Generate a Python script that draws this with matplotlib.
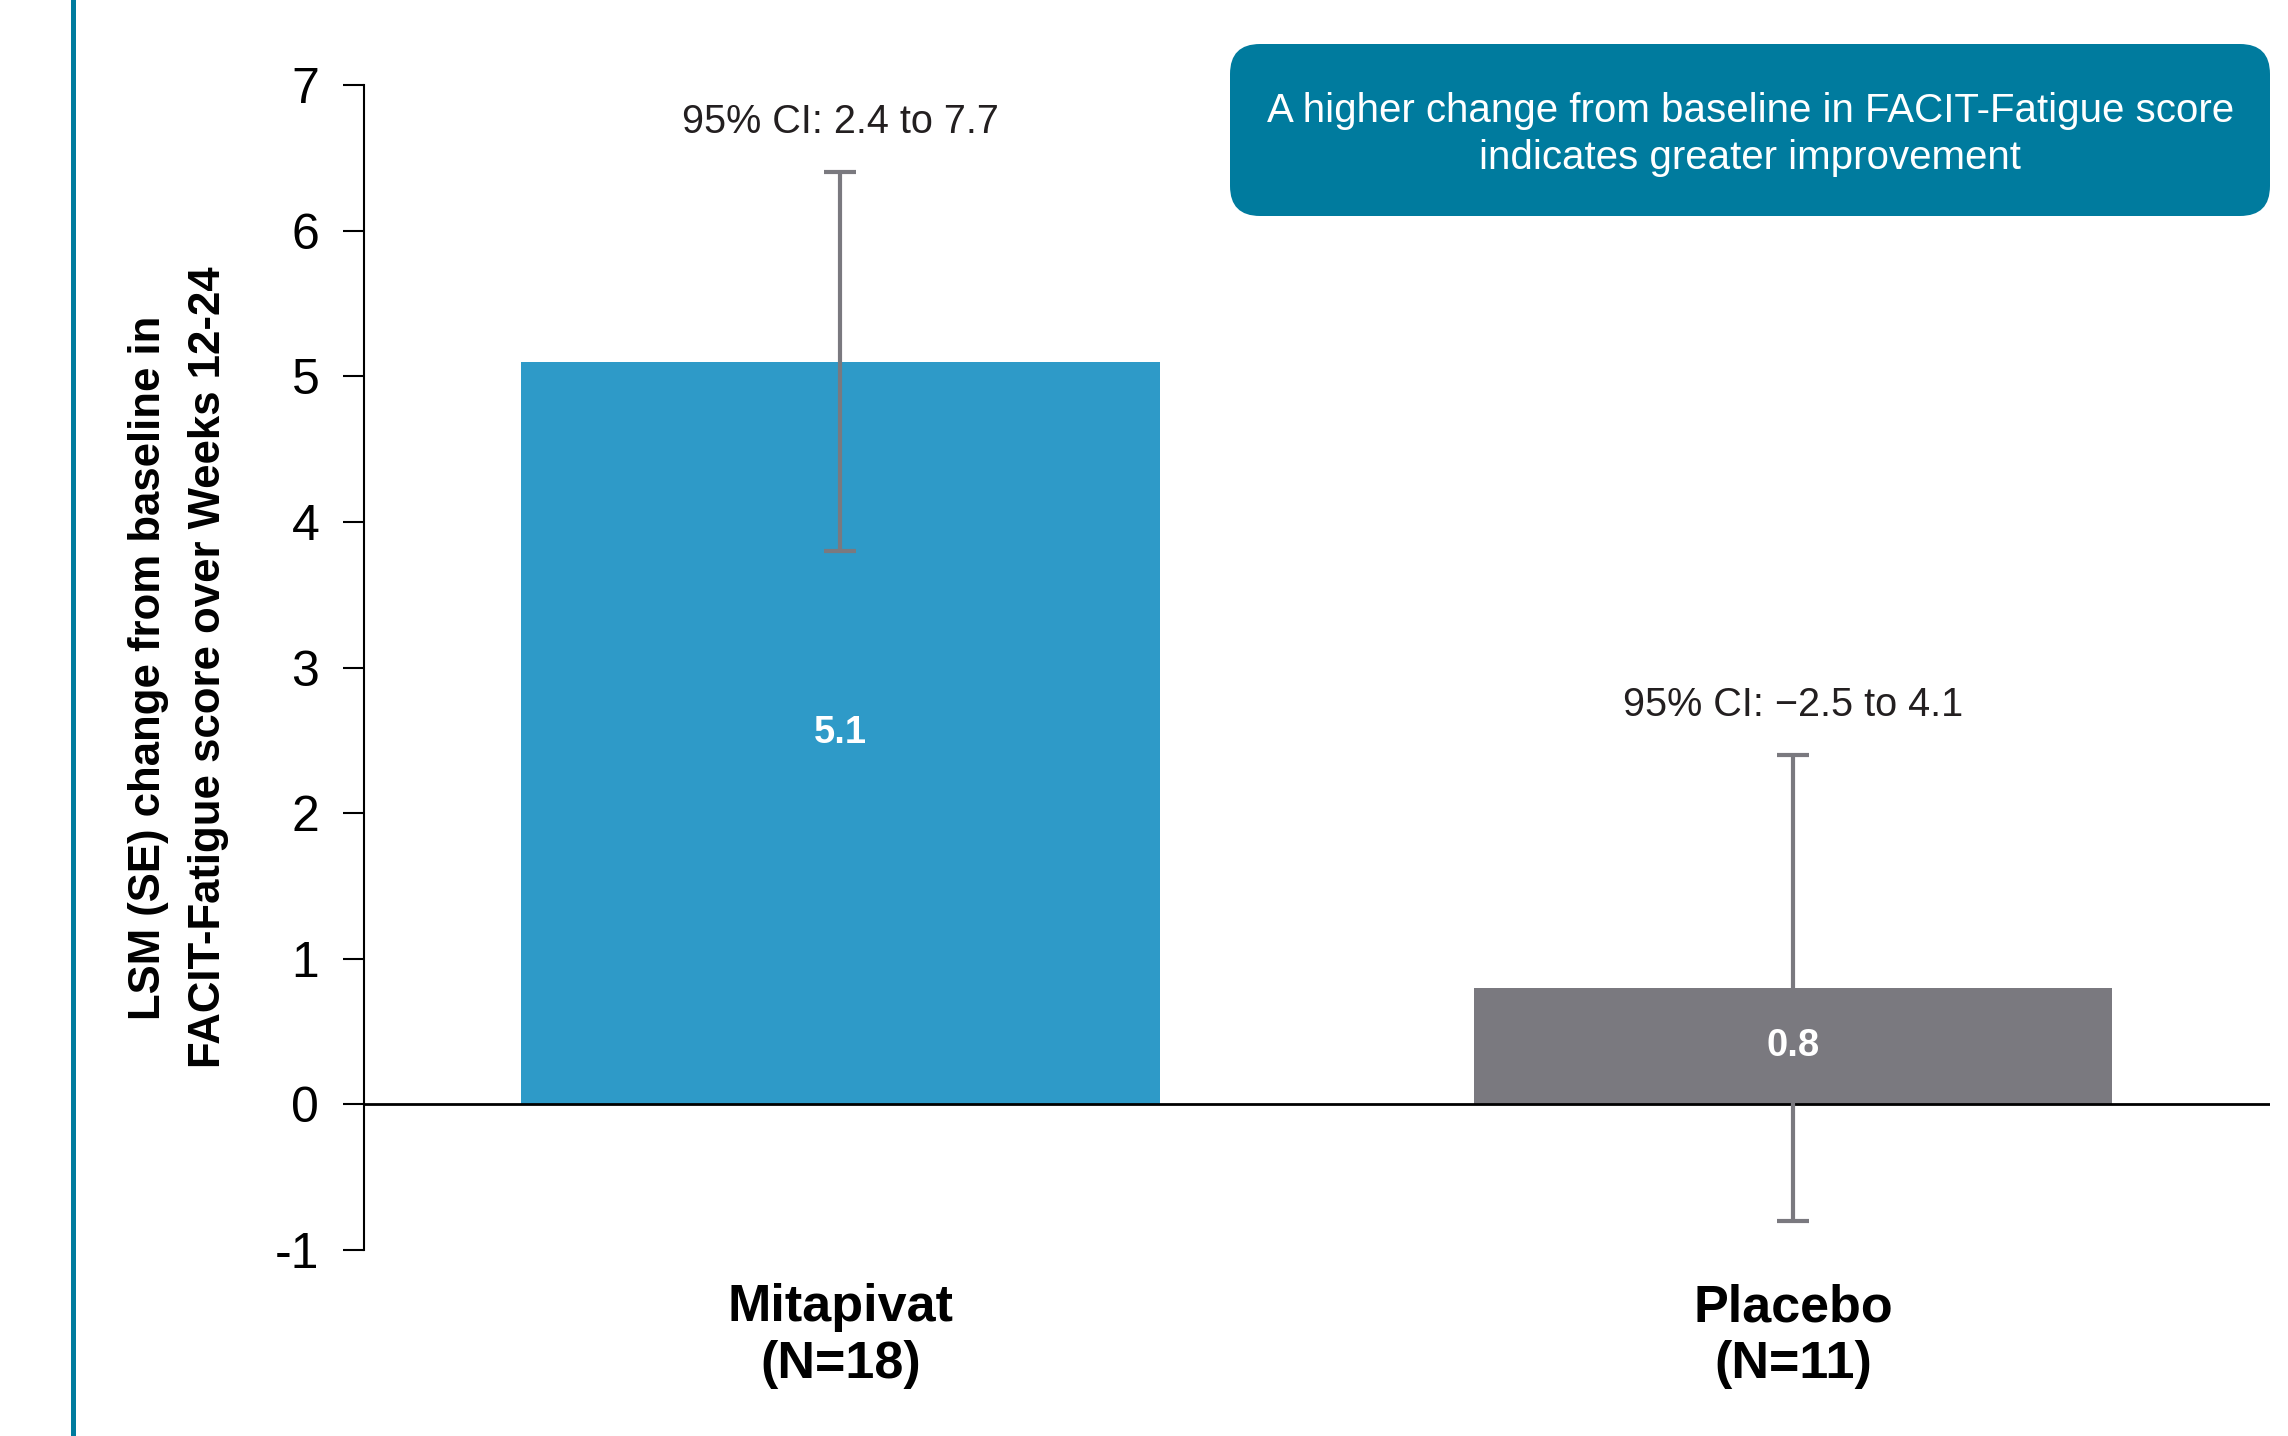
import matplotlib
matplotlib.use('Agg')
import matplotlib.pyplot as plt
from matplotlib.patches import FancyBboxPatch
from matplotlib.lines import Line2D

plt.rcParams['font.family'] = ['Liberation Sans', 'DejaVu Sans']
plt.rcParams['axes.unicode_minus'] = False

# data
groups = ['Mitapivat\n(N=18)', 'Placebo\n(N=11)']
lsm = [5.1, 0.8]
se = [1.3, 1.6]
ci_labels = ['95% CI: 2.4 to 7.7', '95% CI: \u22122.5 to 4.1']
yticks = [-1, 0, 1, 2, 3, 4, 5, 6, 7]

BAR_COLORS = ['#2E9AC8', '#7A797F']
ERR_COLOR = '#7A797F'
TEAL = '#007B9E'
TEXT_DARK = '#231F20'

fig = plt.figure(figsize=(22.88, 14.36), dpi=100)
ax = fig.add_axes([0.159, 0.1295, 0.833, 0.8113])

x = list(range(len(groups)))
bars = ax.bar(x, lsm, width=0.67, color=BAR_COLORS, zorder=1)
ax.errorbar(x, lsm, yerr=se, fmt='none', ecolor=ERR_COLOR,
            elinewidth=3, capsize=11.75, capthick=3, zorder=3)
ax.axhline(0, color='black', lw=2, zorder=2)

# value labels in the middle of the bars
for xi, v in zip(x, lsm):
    ax.text(xi, v / 2, f'{v:.1f}', ha='center', va='center',
            fontsize=27.5, fontweight='bold', color='white', zorder=4)

# CI labels above the caps
for xi, v, e, lab in zip(x, lsm, se, ci_labels):
    ax.annotate(lab, (xi, v + e), xytext=(0, 36), textcoords='offset points',
                ha='center', va='center', fontsize=28.5, color=TEXT_DARK)

ax.set_xlim(-0.5, 1.5)
ax.set_ylim(-1, 7)
ax.set_yticks(yticks)
ax.set_xticks(x)
ax.set_xticklabels(groups, fontsize=37.5, fontweight='bold', linespacing=1.2)

for s in ['top', 'right', 'bottom']:
    ax.spines[s].set_visible(False)
ax.spines['left'].set_linewidth(1.5)
ax.tick_params(axis='y', labelsize=36, length=15, width=1.5, pad=17)
ax.tick_params(axis='x', length=0, pad=24)

ax.set_ylabel('LSM (SE) change from baseline in\nFACIT-Fatigue score over Weeks 12-24',
              fontsize=31.5, fontweight='bold', linespacing=1.6)
ax.yaxis.set_label_coords(-0.0705, 0.5)

# vertical accent line on the left
fig.add_artist(Line2D([0.0317, 0.0317], [0, 1], transform=fig.transFigure,
                      color=TEAL, lw=3.6))

# rounded note box (inches)
box = FancyBboxPatch((12.30, 12.20), 10.40, 1.72,
                     boxstyle='round,pad=0,rounding_size=0.3',
                     transform=fig.dpi_scale_trans, facecolor=TEAL,
                     edgecolor='none')
fig.add_artist(box)
fig.text(0.765, 0.906,
         'A higher change from baseline in FACIT-Fatigue score\nindicates greater improvement',
         ha='center', va='center', fontsize=29, color='white', linespacing=1.3)

fig.savefig('out.png', dpi=100, facecolor='white')
